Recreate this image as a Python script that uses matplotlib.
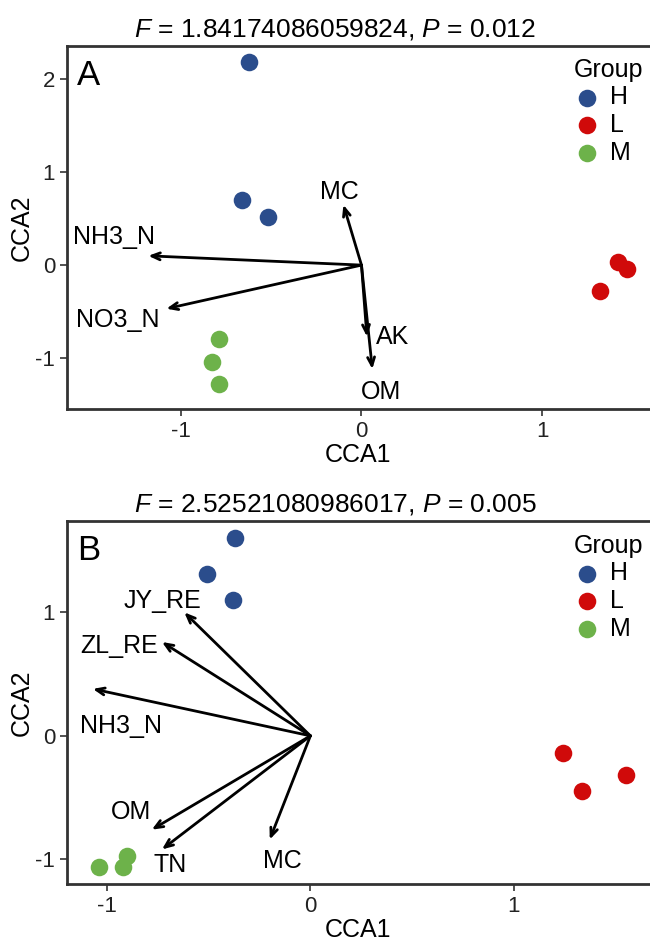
import matplotlib
matplotlib.use("Agg")
import matplotlib.pyplot as plt

plt.rcParams['font.family'] = ['Liberation Sans', 'DejaVu Sans']
plt.rcParams['mathtext.fontset'] = 'custom'
plt.rcParams['mathtext.rm'] = 'Liberation Sans'
plt.rcParams['mathtext.it'] = 'Liberation Sans:italic'
plt.rcParams['axes.unicode_minus'] = False

groups = ['H', 'L', 'M']
group_colors = ['#2B4D8C', '#D00A0A', '#6DB24A']

# panel A: sample scores
a_title = r'$\it{F}$ = 1.84174086059824, $\it{P}$ = 0.012'
a_x = {'H': [-0.62, -0.66, -0.52], 'L': [1.42, 1.47, 1.32], 'M': [-0.79, -0.83, -0.79]}
a_y = {'H': [2.19, 0.70, 0.52], 'L': [0.03, -0.04, -0.28], 'M': [-0.80, -1.04, -1.28]}
a_yticks = [-1, 0, 1, 2]
# panel A: environmental arrows
a_env = ['MC', 'NH3_N', 'NO3_N', 'AK', 'OM']
a_env_x = [-0.10, -1.18, -1.08, 0.03, 0.06]
a_env_y = [0.65, 0.10, -0.47, -0.77, -1.12]
a_lab_x = [-0.12, -1.37, -1.35, 0.17, 0.11]
a_lab_y = [0.79, 0.30, -0.59, -0.77, -1.37]

# panel B
b_title = r'$\it{F}$ = 2.52521080986017, $\it{P}$ = 0.005'
b_x = {'H': [-0.37, -0.51, -0.38], 'L': [1.24, 1.55, 1.335], 'M': [-1.04, -0.92, -0.90]}
b_y = {'H': [1.60, 1.31, 1.10], 'L': [-0.14, -0.32, -0.45], 'M': [-1.06, -1.06, -0.97]}
b_yticks = [-1, 0, 1]
b_env = ['JY_RE', 'ZL_RE', 'NH3_N', 'OM', 'TN', 'MC']
b_env_x = [-0.62, -0.73, -1.07, -0.78, -0.73, -0.20]
b_env_y = [1.00, 0.76, 0.38, -0.76, -0.92, -0.84]
b_lab_x = [-0.73, -0.94, -0.93, -0.88, -0.69, -0.14]
b_lab_y = [1.09, 0.73, 0.08, -0.62, -1.05, -1.01]

fig = plt.figure(figsize=(6.5, 9.42), dpi=100)


def panel(rect, title, letter, sx, sy, env, ex, ey, lx, ly, xlim, ylim, yticks, leg_y):
    ax = fig.add_axes(rect)
    for g, c in zip(groups, group_colors):
        ax.scatter(sx[g], sy[g], s=160, color=c, label=g, zorder=3, linewidths=0)
    for name, x, y, tx, ty in zip(env, ex, ey, lx, ly):
        ax.annotate('', xy=(x, y), xytext=(0, 0),
                    arrowprops=dict(arrowstyle='->,head_length=0.6,head_width=0.25',
                                    lw=2.0, color='black', shrinkA=0, shrinkB=0))
        ax.text(tx, ty, name, ha='center', va='center', fontsize=18)
    ax.set_xlim(*xlim)
    ax.set_ylim(*ylim)
    ax.set_xticks([-1, 0, 1])
    ax.set_yticks(yticks)
    ax.set_title(title, fontsize=19, pad=7, x=(335 - 67) / 583)
    ax.set_xlabel('CCA1', fontsize=18, labelpad=1)
    ax.set_ylabel('CCA2', fontsize=18, labelpad=1)
    ax.tick_params(labelsize=16, length=5, width=1.2, color='#333333', labelcolor='#222222')
    for s in ['left', 'bottom', 'top']:
        ax.spines[s].set_linewidth(2.0)
        ax.spines[s].set_color('#333333')
    ax.spines['right'].set_visible(False)
    ax.text(0.017, 0.965, letter, transform=ax.transAxes, fontsize=25, va='top', ha='left')
    ax.legend(title='Group', loc='upper left', bbox_to_anchor=(561 / 650, leg_y),
              bbox_transform=fig.transFigure, frameon=False, fontsize=18,
              title_fontsize=18, handletextpad=0.35, labelspacing=0.15,
              borderpad=0, handlelength=1.1, alignment='left')
    return ax


panel([67 / 650, 1 - 409 / 942, 1 - 67 / 650, 363 / 942], a_title, 'A',
      a_x, a_y, a_env, a_env_x, a_env_y, a_lab_x, a_lab_y,
      (-1.63, 1.597), (-1.55, 2.36), a_yticks, 1 - 45 / 942)
panel([67 / 650, 1 - 884 / 942, 1 - 67 / 650, 363 / 942], b_title, 'B',
      b_x, b_y, b_env, b_env_x, b_env_y, b_lab_x, b_lab_y,
      (-1.197, 1.67), (-1.20, 1.74), b_yticks, 1 - 521 / 942)

fig.savefig('out.png', dpi=100)
